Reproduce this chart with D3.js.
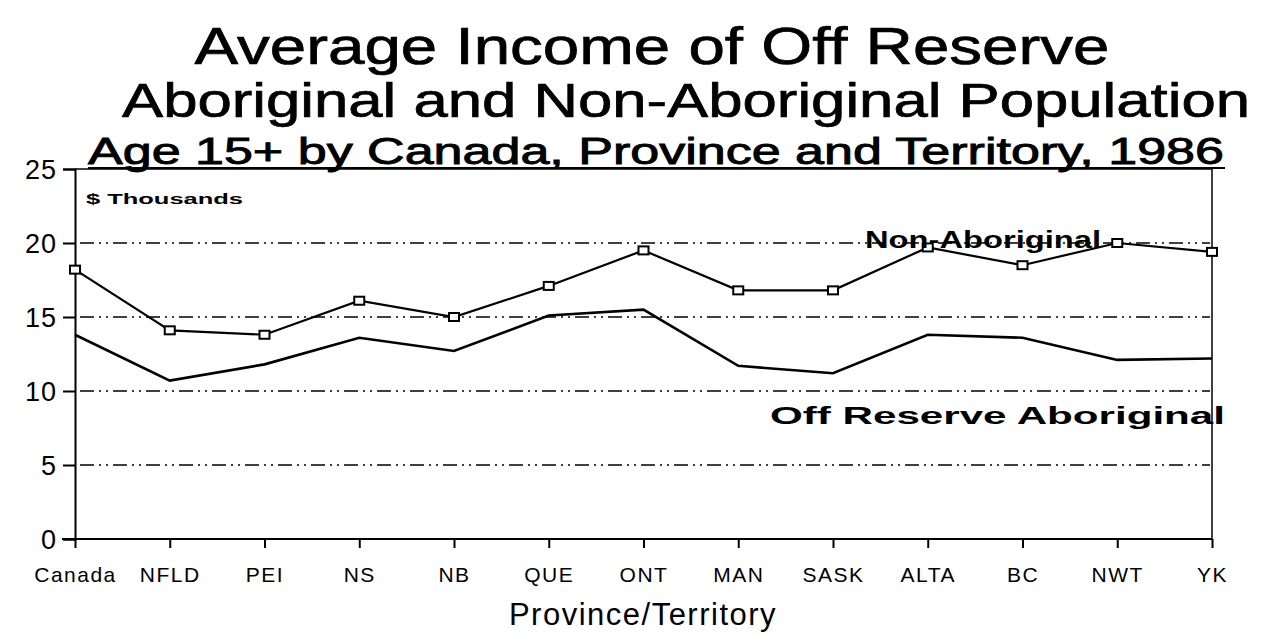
<!DOCTYPE html>
<html><head><meta charset="utf-8">
<script src="https://cdn.jsdelivr.net/npm/d3@7"></script>
<style>body{margin:0;background:#fff}svg{display:block}text{font-family:"Liberation Sans",Arial,sans-serif;fill:#000}</style>
</head><body>
<svg id="c" width="1275" height="637"></svg>
<script>
const categories = ["Canada","NFLD","PEI","NS","NB","QUE","ONT","MAN","SASK","ALTA","BC","NWT","YK"];
const nonAboriginal = [18.2,14.1,13.8,16.1,15.0,17.1,19.5,16.8,16.8,19.7,18.5,20.0,19.4];
const offReserveAboriginal = [13.8,10.7,11.8,13.6,12.7,15.1,15.5,11.7,11.2,13.8,13.6,12.1,12.2];
const yTicks = [0,5,10,15,20,25];
const gridValues = [5,10,15,20];

const svg = d3.select("#c");
const x = d3.scalePoint().domain(categories).range([75,1212]);
const y = d3.scaleLinear().domain([0,25]).range([539,169]);

// titles
svg.append("text").attr("x",652).attr("y",64).attr("text-anchor","middle")
  .attr("font-size",52).attr("textLength",915).attr("lengthAdjust","spacingAndGlyphs")
  .attr("stroke","#000").attr("stroke-width",0.7).text("Average Income of Off Reserve");
svg.append("text").attr("x",686).attr("y",117).attr("text-anchor","middle")
  .attr("font-size",48).attr("textLength",1128).attr("lengthAdjust","spacingAndGlyphs")
  .attr("stroke","#000").attr("stroke-width",0.7).text("Aboriginal and Non-Aboriginal Population");
svg.append("text").attr("x",656).attr("y",164).attr("text-anchor","middle")
  .attr("font-size",37).attr("textLength",1136).attr("lengthAdjust","spacingAndGlyphs")
  .attr("stroke","#000").attr("stroke-width",0.9)
  .text("Age 15+ by Canada, Province and Territory,  1986");
svg.append("line").attr("x1",88).attr("x2",1225).attr("y1",168).attr("y2",168).attr("stroke","#000").attr("stroke-width",2);

// grid
svg.append("g").selectAll("line").data(gridValues).join("line")
  .attr("x1",80).attr("x2",1210).attr("y1",d=>y(d)).attr("y2",d=>y(d))
  .attr("stroke","#000").attr("stroke-width",1.4).attr("stroke-dasharray","14,5,2,5,2,5");

// frame top and right
svg.append("line").attr("x1",75).attr("x2",1212).attr("y1",y(25)).attr("y2",y(25)).attr("stroke","#000").attr("stroke-width",1.5);
svg.append("line").attr("x1",1212).attr("x2",1212).attr("y1",y(25)).attr("y2",y(0)).attr("stroke","#000").attr("stroke-width",1.5);

// axes
const yAxis = svg.append("g").attr("transform","translate(75,0)")
  .call(d3.axisLeft(y).tickValues(yTicks).tickSize(12).tickPadding(6));
yAxis.select(".domain").attr("stroke-width",2);
yAxis.selectAll(".tick line").attr("stroke-width",2);
yAxis.selectAll("text").attr("font-size",27).attr("letter-spacing",1).attr("font-family","Liberation Sans, Arial, sans-serif").attr("dy","0.35em");

const xAxis = svg.append("g").attr("transform",`translate(0,${y(0)})`)
  .call(d3.axisBottom(x).tickSize(9).tickPadding(19));
xAxis.select(".domain").attr("stroke-width",2).attr("d",`M62,0H1212`);
xAxis.selectAll(".tick line").attr("stroke-width",2);
xAxis.selectAll("text").attr("font-size",21).attr("letter-spacing",1.5).attr("font-family","Liberation Sans, Arial, sans-serif");

svg.append("text").attr("x",643).attr("y",625).attr("text-anchor","middle")
  .attr("font-size",31).attr("letter-spacing",1.5).text("Province/Territory");

svg.append("text").attr("x",86).attr("y",204).attr("font-size",14).attr("font-weight","bold")
  .attr("textLength",157).attr("lengthAdjust","spacingAndGlyphs").text("$ Thousands");

// lines
const line = d3.line().x((d,i)=>x(categories[i])).y(d=>y(d));
svg.append("path").datum(offReserveAboriginal).attr("d",line).attr("fill","none").attr("stroke","#000").attr("stroke-width",2.6);
svg.append("path").datum(nonAboriginal).attr("d",line).attr("fill","none").attr("stroke","#000").attr("stroke-width",2.2);
svg.append("g").selectAll("rect").data(nonAboriginal).join("rect")
  .attr("x",(d,i)=>x(categories[i])-5).attr("y",d=>y(d)-4).attr("width",10).attr("height",8)
  .attr("fill","#fff").attr("stroke","#000").attr("stroke-width",2);

// labels
svg.append("text").attr("x",865).attr("y",248).attr("font-size",24).attr("font-weight","bold")
  .attr("textLength",236).attr("lengthAdjust","spacingAndGlyphs").text("Non-Aboriginal");
svg.append("text").attr("x",770).attr("y",424).attr("font-size",24).attr("font-weight","bold")
  .attr("textLength",455).attr("lengthAdjust","spacingAndGlyphs").text("Off Reserve Aboriginal");
</script>
</body></html>
